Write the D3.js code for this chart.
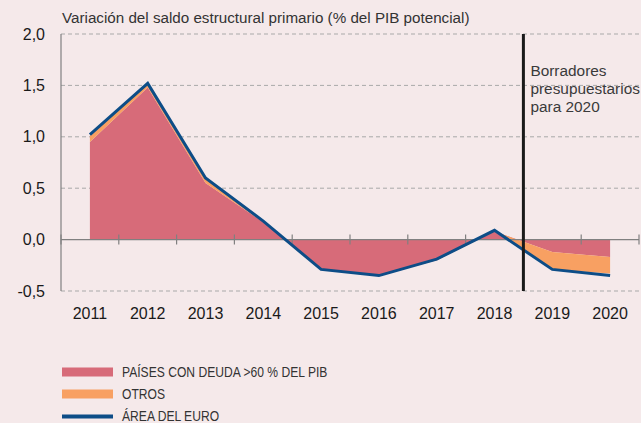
<!DOCTYPE html>
<html>
<head>
<meta charset="utf-8">
<script src="https://cdn.jsdelivr.net/npm/d3@7"></script>
<style>
  html, body { margin: 0; padding: 0; background: #f5e9ea; }
  svg { display: block; font-family: "Liberation Sans", Arial, sans-serif; }
</style>
</head>
<body>
<div id="chart"></div>
<script>
// Datos
const years = ["2011", "2012", "2013", "2014", "2015", "2016", "2017", "2018", "2019", "2020"];
const paisesDeuda = [0.95, 1.48, 0.55, 0.17, -0.29, -0.35, -0.20, 0.08, -0.12, -0.17];
const otros = [0.06, 0.03, 0.04, 0.01, 0.00, 0.00, 0.01, 0.01, -0.17, -0.16];
const areaEuro = [1.02, 1.52, 0.60, 0.18, -0.29, -0.35, -0.19, 0.09, -0.29, -0.35];
const yTicks = [-0.5, 0, 0.5, 1, 1.5, 2];
const title = "Variación del saldo estructural primario (% del PIB potencial)";
const noteLines = ["Borradores", "presupuestarios", "para 2020"];
const legendItems = [
    { label: "PAÍSES CON DEUDA >60 % DEL PIB", color: "#d76b79", type: "area" },
    { label: "OTROS", color: "#f8a062", type: "area" },
    { label: "ÁREA DEL EURO", color: "#0d4d87", type: "line" }
];

const width = 641;
const height = 423;
const margin = { top: 34, right: 2, bottom: 132, left: 61 };

const svg = d3.select("#chart")
    .append("svg")
    .attr("width", width)
    .attr("height", height);

svg.append("rect")
    .attr("width", width)
    .attr("height", height)
    .attr("fill", "#f5e9ea");

const xScale = d3.scaleBand()
    .domain(years)
    .range([margin.left, width - margin.right])
    .padding(0);

const xMid = d => xScale(d) + xScale.bandwidth() / 2;

const yScale = d3.scaleLinear()
    .domain([-0.5, 2])
    .range([height - margin.bottom, margin.top]);

// Líneas de rejilla discontinuas
svg.append("g")
    .selectAll("line")
    .data(yTicks.filter(d => d !== 0))
    .join("line")
    .attr("x1", margin.left)
    .attr("x2", width)
    .attr("y1", d => yScale(d))
    .attr("y2", d => yScale(d))
    .attr("stroke", "#a9a9a9")
    .attr("stroke-width", 1)
    .attr("stroke-dasharray", "4,3");

// Áreas apiladas
const rows = years.map((y, i) => ({ year: y, deuda: paisesDeuda[i], otros: otros[i] }));
const stack = d3.stack().keys(["deuda", "otros"]);
const series = stack(rows);

const area = d3.area()
    .x(d => xMid(d.data.year))
    .y0(d => yScale(d[0]))
    .y1(d => yScale(d[1]));

svg.append("g")
    .selectAll("path")
    .data(series)
    .join("path")
    .attr("fill", (d, i) => legendItems[i].color)
    .attr("d", area);

// Eje Y
svg.append("line")
    .attr("x1", margin.left)
    .attr("x2", margin.left)
    .attr("y1", yScale(2))
    .attr("y2", yScale(-0.5))
    .attr("stroke", "#808080")
    .attr("stroke-width", 1.2);

const yAxis = d3.axisLeft(yScale)
    .tickValues(yTicks)
    .tickFormat(d => d3.format(".1f")(d).replace(".", ",").replace("−", "-"))
    .tickSize(0)
    .tickPadding(16);

svg.append("g")
    .attr("transform", `translate(${margin.left},0)`)
    .call(yAxis)
    .call(g => g.select(".domain").remove())
    .selectAll("text")
    .attr("fill", "#1a1a1a")
    .style("font-size", "16px")
    .style("font-family", "inherit");

// Eje X en cero con marcas
svg.append("line")
    .attr("x1", margin.left)
    .attr("x2", xScale.range()[1])
    .attr("y1", yScale(0))
    .attr("y2", yScale(0))
    .attr("stroke", "#808080")
    .attr("stroke-width", 1.2);

svg.append("g")
    .selectAll("line")
    .data(years.concat(["end"]))
    .join("line")
    .attr("x1", (d, i) => i < years.length ? xScale(d) : xScale.range()[1])
    .attr("x2", (d, i) => i < years.length ? xScale(d) : xScale.range()[1])
    .attr("y1", yScale(0) - 5)
    .attr("y2", yScale(0) + 5)
    .attr("stroke", "#808080")
    .attr("stroke-width", 1.2);

svg.append("g")
    .selectAll("text")
    .data(years)
    .join("text")
    .attr("x", d => xMid(d))
    .attr("y", yScale(-0.5) + 28)
    .attr("text-anchor", "middle")
    .attr("fill", "#1a1a1a")
    .style("font-size", "16px")
    .text(d => d);

// Línea del área del euro
const line = d3.line()
    .x((d, i) => xMid(years[i]))
    .y(d => yScale(d));

svg.append("path")
    .datum(areaEuro)
    .attr("fill", "none")
    .attr("stroke", "#0d4d87")
    .attr("stroke-width", 3)
    .attr("d", line);

// Línea vertical de borradores presupuestarios
const xSplit = xScale("2019");
svg.append("line")
    .attr("x1", xSplit)
    .attr("x2", xSplit)
    .attr("y1", yScale(2))
    .attr("y2", yScale(-0.5))
    .attr("stroke", "#1a1a1a")
    .attr("stroke-width", 3);

svg.append("text")
    .attr("x", xSplit + 7)
    .attr("y", 76)
    .attr("fill", "#3a3a3a")
    .style("font-size", "15.4px")
    .selectAll("tspan")
    .data(noteLines)
    .join("tspan")
    .attr("x", xSplit + 7)
    .attr("dy", (d, i) => i === 0 ? 0 : 18)
    .text(d => d);

// Título
svg.append("text")
    .attr("x", margin.left + 1)
    .attr("y", 23)
    .attr("fill", "#333")
    .style("font-size", "15.2px")
    .text(title);

// Leyenda
const legend = svg.append("g")
    .attr("transform", "translate(62,372)");

const rowsL = legend.selectAll("g")
    .data(legendItems)
    .join("g")
    .attr("transform", (d, i) => `translate(0,${i * 22})`);

rowsL.append("rect")
    .attr("x", 0)
    .attr("y", d => d.type === "area" ? -4.5 : -1.5)
    .attr("width", 51)
    .attr("height", d => d.type === "area" ? 9 : 4)
    .attr("fill", d => d.color);

rowsL.append("text")
    .attr("x", 60)
    .attr("y", 5)
    .attr("fill", "#333")
    .style("font-size", "14px")
    .attr("transform", "translate(60,0) scale(0.865,1) translate(-60,0)")
    .text(d => d.label);
</script>
</body>
</html>
